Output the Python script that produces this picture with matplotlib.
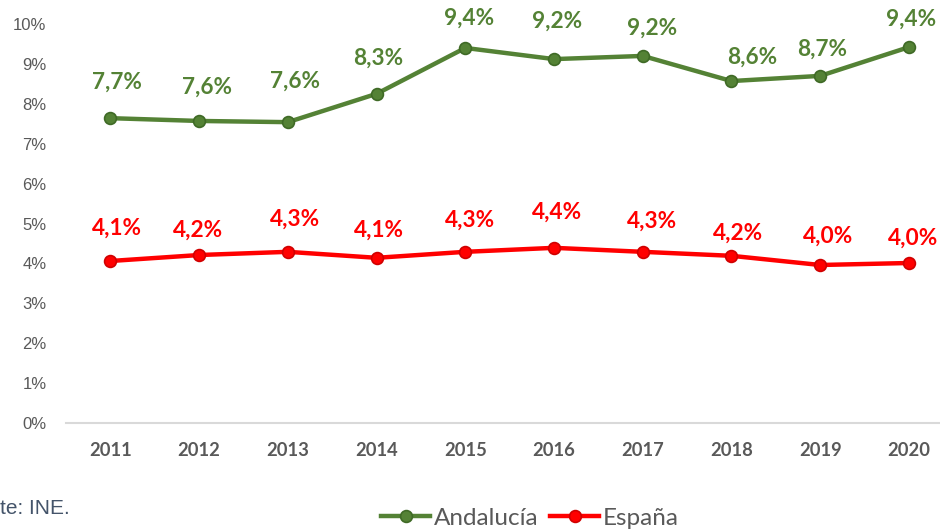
import matplotlib
matplotlib.use("Agg")
import matplotlib.pyplot as plt
from matplotlib.ticker import FuncFormatter

years = ["2011", "2012", "2013", "2014", "2015", "2016", "2017", "2018", "2019", "2020"]
andalucia = [7.64, 7.57, 7.54, 8.25, 9.40, 9.12, 9.20, 8.57, 8.70, 9.42]
espana = [4.06, 4.21, 4.29, 4.14, 4.29, 4.39, 4.29, 4.19, 3.96, 4.01]
andalucia_labels = ["7,7%", "7,6%", "7,6%", "8,3%", "9,4%", "9,2%", "9,2%", "8,6%", "8,7%", "9,4%"]
espana_labels = ["4,1%", "4,2%", "4,3%", "4,1%", "4,3%", "4,4%", "4,3%", "4,2%", "4,0%", "4,0%"]
y_ticks = [0, 1, 2, 3, 4, 5, 6, 7, 8, 9, 10]

# label placement offsets (pixels)
and_off = [(7, 36), (8, 34), (7, 41), (2, 36), (4, 30), (3, 38), (9, 28), (21, 24), (2, 27), (2, 28)]
esp_off = [(7, 33), (-1, 25), (7, 33), (2, 28), (5, 32), (3, 36), (9, 31), (7, 23), (8, 29), (4, 25)]

GREEN = "#548235"
GREEN_EDGE = "#3F6A26"
RED = "#FF0000"
RED_EDGE = "#D00000"

fig = plt.figure(figsize=(9.40, 5.29), dpi=100)
ax = fig.add_axes([66 / 940, (529 - 423) / 529, (940 - 66) / 940, (423 - 24) / 529])

x = list(range(len(years)))
ax.plot(x, andalucia, color=GREEN, lw=3.2, marker="o", ms=8.5,
        mfc=GREEN, mec=GREEN_EDGE, mew=1.2, label="Andalucía", zorder=3)
ax.plot(x, espana, color=RED, lw=3.2, marker="o", ms=8.5,
        mfc=RED, mec=RED_EDGE, mew=1.2, label="España", zorder=3)

for i in x:
    ax.annotate(andalucia_labels[i], (i, andalucia[i]), xytext=and_off[i],
                textcoords="offset pixels", ha="center", va="center",
                fontsize=16.3, fontweight="bold", color=GREEN, family="Lato")
    ax.annotate(espana_labels[i], (i, espana[i]), xytext=esp_off[i],
                textcoords="offset pixels", ha="center", va="center",
                fontsize=16.3, fontweight="bold", color=RED, family="Lato")

ax.set_xlim(-0.5, 9.35)
ax.set_ylim(0, 10)
ax.set_xticks(x)
ax.set_xticklabels(years, fontsize=13.2, fontweight="bold", color="#595959", family="Lato")
ax.set_yticks(y_ticks)
ax.yaxis.set_major_formatter(FuncFormatter(lambda v, p: f"{int(v)}%"))
for lab in ax.get_yticklabels():
    lab.set_family("Liberation Sans")
    lab.set_fontsize(12)
    lab.set_color("#595959")
ax.tick_params(axis="x", length=0, pad=14)
ax.tick_params(axis="y", length=0, pad=14)

for s in ["top", "right", "left"]:
    ax.spines[s].set_visible(False)
ax.spines["bottom"].set_color("#D9D9D9")
ax.spines["bottom"].set_linewidth(1.5)
ax.set_facecolor("white")

fig.text(0.5 / 940, (529 - 508) / 529, "te: INE.", fontsize=15,
         color="#44546A", family="Liberation Sans", va="center", ha="left")

leg = fig.legend(loc="center", bbox_to_anchor=(530 / 940, (529 - 518) / 529), ncol=2,
                 frameon=False, prop={"family": "Lato", "size": 17.5},
                 handlelength=2.0, columnspacing=0.5, handletextpad=0.15)
for t in leg.get_texts():
    t.set_color("#595959")

fig.savefig("out.png", dpi=100, facecolor="white")
